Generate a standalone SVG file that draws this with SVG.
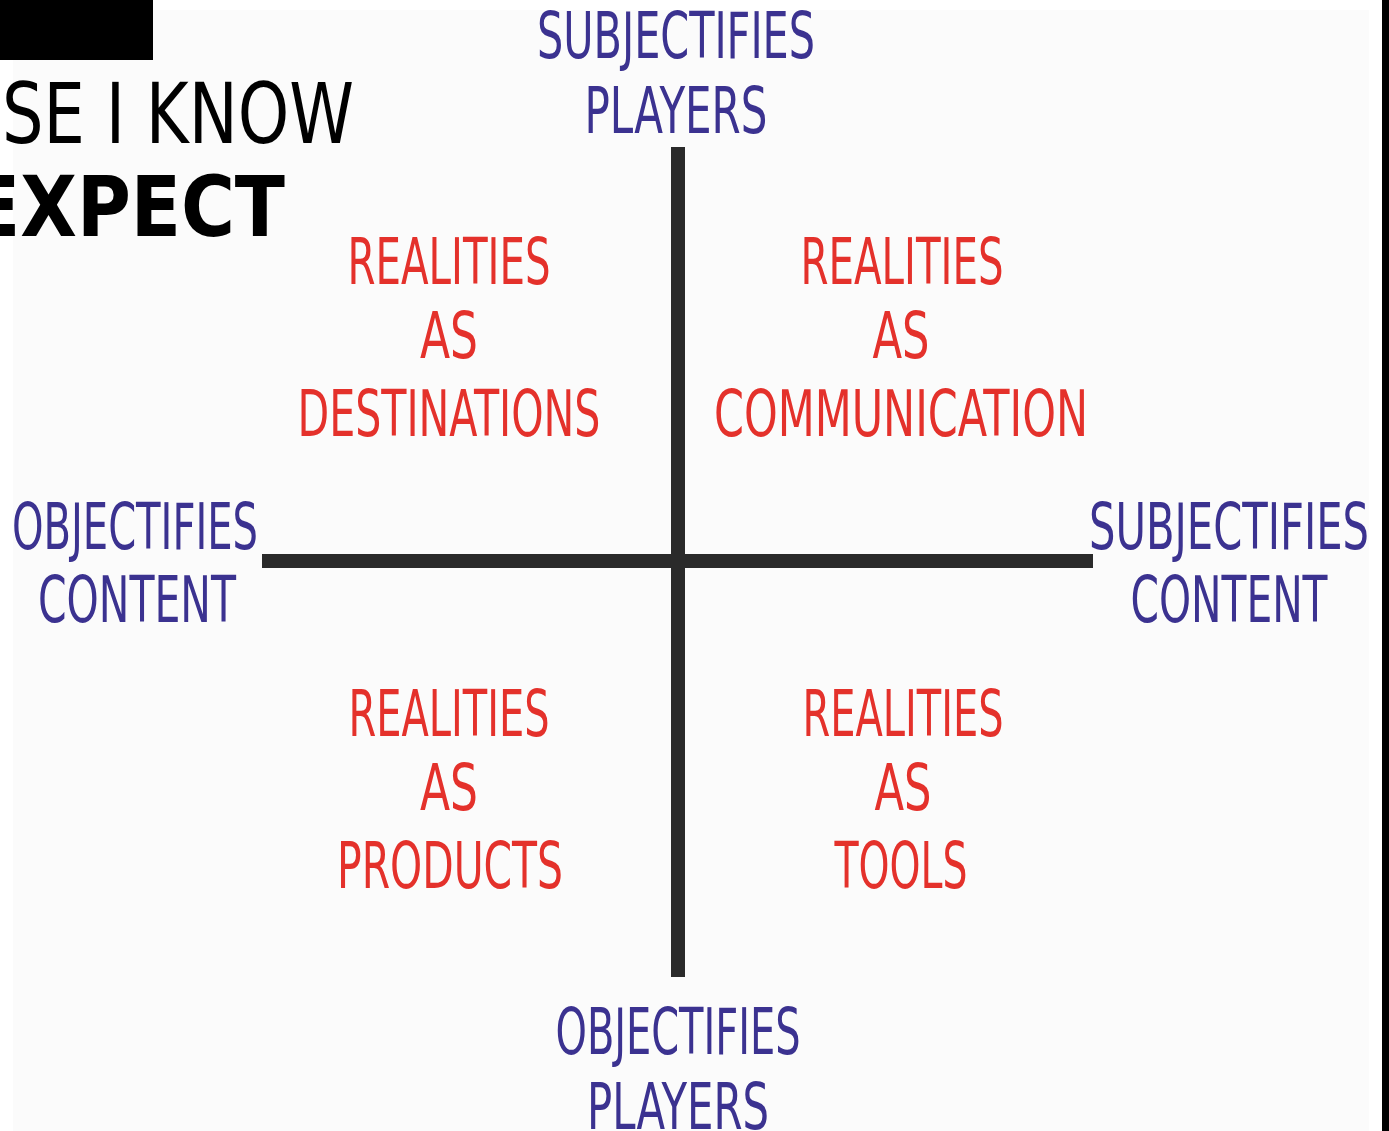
<svg xmlns="http://www.w3.org/2000/svg" width="1389" height="1131" viewBox="0 0 1389 1131">
<style>
text{font-family:"Liberation Sans Narrow","DejaVu Sans Condensed","Liberation Sans",sans-serif;text-anchor:middle}
.b{fill:#3b3290;font-size:64px}
.r{fill:#e4312b;font-size:64px}
.k{fill:#000;font-size:84px;text-anchor:start}
.ax{stroke:#2a2a2a;stroke-width:14;fill:none}
</style>
<rect width="1389" height="1131" fill="#ffffff"/>
<rect x="13" y="10" width="1356" height="1121" fill="#fbfbfb"/>
<rect x="1382" y="0" width="7" height="1131" fill="#000"/>
<g id="header">
<rect x="0" y="0" width="153" height="60" fill="#000"/>
<text class="k" x="2" y="143" textLength="352" lengthAdjust="spacingAndGlyphs">SE I KNOW</text>
<text class="k" x="-30" y="236" font-weight="bold" textLength="315" lengthAdjust="spacingAndGlyphs">EXPECT</text>
</g>
<g id="connectors">
<line class="ax" x1="678" y1="147" x2="678" y2="977"/>
<line class="ax" x1="262" y1="561" x2="1093" y2="561"/>
</g>
<g id="top-label">
<text class="b" x="676" y="58" textLength="278" lengthAdjust="spacingAndGlyphs">SUBJECTIFIES</text>
<text class="b" x="676" y="133" textLength="183" lengthAdjust="spacingAndGlyphs">PLAYERS</text>
</g>
<g id="bottom-label">
<text class="b" x="678" y="1054" textLength="245" lengthAdjust="spacingAndGlyphs">OBJECTIFIES</text>
<text class="b" x="678" y="1129" textLength="182" lengthAdjust="spacingAndGlyphs">PLAYERS</text>
</g>
<g id="left-label">
<text class="b" x="135" y="549" textLength="246" lengthAdjust="spacingAndGlyphs">OBJECTIFIES</text>
<text class="b" x="137" y="622" textLength="198" lengthAdjust="spacingAndGlyphs">CONTENT</text>
</g>
<g id="right-label">
<text class="b" x="1229" y="549" textLength="280" lengthAdjust="spacingAndGlyphs">SUBJECTIFIES</text>
<text class="b" x="1229" y="622" textLength="197" lengthAdjust="spacingAndGlyphs">CONTENT</text>
</g>
<g id="q-destinations">
<text class="r" x="449" y="284" textLength="203" lengthAdjust="spacingAndGlyphs">REALITIES</text>
<text class="r" x="449" y="358" textLength="58" lengthAdjust="spacingAndGlyphs">AS</text>
<text class="r" x="449" y="436" textLength="303" lengthAdjust="spacingAndGlyphs">DESTINATIONS</text>
</g>
<g id="q-communication">
<text class="r" x="902" y="284" textLength="203" lengthAdjust="spacingAndGlyphs">REALITIES</text>
<text class="r" x="901" y="358" textLength="57" lengthAdjust="spacingAndGlyphs">AS</text>
<text class="r" x="901" y="436" textLength="374" lengthAdjust="spacingAndGlyphs">COMMUNICATION</text>
</g>
<g id="q-products">
<text class="r" x="449" y="736" textLength="201" lengthAdjust="spacingAndGlyphs">REALITIES</text>
<text class="r" x="449" y="810" textLength="58" lengthAdjust="spacingAndGlyphs">AS</text>
<text class="r" x="450" y="888" textLength="226" lengthAdjust="spacingAndGlyphs">PRODUCTS</text>
</g>
<g id="q-tools">
<text class="r" x="903" y="736" textLength="201" lengthAdjust="spacingAndGlyphs">REALITIES</text>
<text class="r" x="903" y="810" textLength="57" lengthAdjust="spacingAndGlyphs">AS</text>
<text class="r" x="901" y="888" textLength="133" lengthAdjust="spacingAndGlyphs">TOOLS</text>
</g>
</svg>
